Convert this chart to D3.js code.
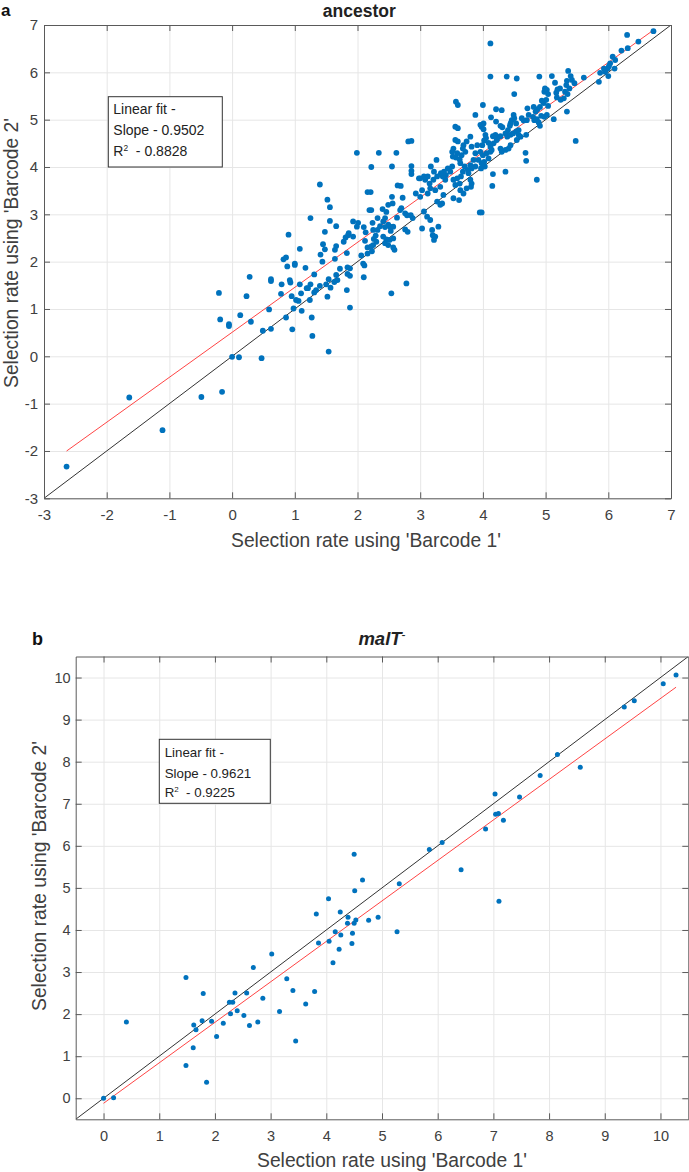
<!DOCTYPE html>
<html><head><meta charset="utf-8">
<script src="https://cdn.jsdelivr.net/npm/d3@7"></script>
<style>
html,body{margin:0;padding:0;background:#fff;}
text{font-family:"Liberation Sans",Arial,Helvetica,sans-serif;}
</style></head>
<body><svg id="c" width="689" height="1172"></svg>
<script>
// ---------- DATA ----------
const axisTicksA = [-3,-2,-1,0,1,2,3,4,5,6,7];
const axisTicksB = [0,1,2,3,4,5,6,7,8,9,10];
const fitA = {slope:0.9502, intercept:0.507, r2:0.8828};
const fitB = {slope:0.9621, intercept:-0.12, r2:0.9225};
const titleA = "ancestor";
const xLabel = "Selection rate using 'Barcode 1'";
const yLabel = "Selection rate using 'Barcode 2'";

// ancestor: [Barcode 1, Barcode 2]
const ancestorPoints = [
[-2.64,-2.33],[-1.64,-0.87],[-1.11,-1.56],[-0.49,-0.86],[-0.16,-0.75],[-0.21,1.34],[-0.19,0.78],[-0.05,0.68],[-0.05,0.64],[0.0,-0.01],[0.11,-0.02],[0.13,0.87],[0.23,1.27],[0.28,1.68],[0.30,0.73],[0.47,-0.04],[0.49,0.54],[0.59,0.99],[0.62,1.63],[0.62,1.59],[0.62,0.58],[0.78,1.32],[0.79,1.52],[0.82,2.05],[0.86,2.09],[0.86,0.82],[0.88,1.90],[0.92,1.61],[0.93,1.56],[0.95,1.27],[0.96,0.57],[0.98,1.01],[1.0,1.96],[1.0,1.93],[1.02,1.19],[1.06,1.17],[1.08,1.52],[1.10,1.33],[1.11,0.96],[1.17,1.87],[1.19,1.44],[1.21,1.44],[1.24,1.19],[1.25,1.52],[1.27,0.82],[1.28,0.43],[1.31,1.73],[1.31,1.35],[1.34,1.40],[1.40,1.49],[1.41,2.15],[1.44,2.0],[1.50,1.52],[1.52,1.26],[1.54,0.10],[1.54,1.63],[1.57,1.45],[1.63,1.57],[1.64,2.06],[1.66,1.72],[1.68,1.61],[1.72,1.85],[1.83,1.40],[1.83,2.18],[1.84,1.88],[1.88,1.86],[1.84,1.74],[1.88,1.03],[1.88,1.70],[2.06,2.13],[2.09,1.96],[2.11,1.92],[2.10,1.67],[2.16,2.17],[2.23,2.22],[2.54,1.33],[2.78,1.54],[2.59,2.25],
[1.99,4.30],[2.34,4.30],[2.62,4.30],[2.22,4.00],[2.55,4.01],[2.86,4.02],[2.86,3.92],[2.86,3.85],[1.40,3.63],[1.52,3.31],[1.56,3.15],[1.25,2.92],[1.56,2.86],[1.66,2.75],[1.48,2.63],[0.90,2.57],[1.08,2.27],[1.45,2.37],[1.48,2.26],[1.66,2.33],[1.64,2.25],[1.78,2.42],[1.81,2.51],[1.85,2.56],[1.93,2.53],[1.86,2.60],[1.93,2.85],[2.01,2.82],[1.99,2.74],[2.10,2.73],[2.19,3.09],[2.22,3.09],[2.16,3.47],[2.21,3.47],[2.13,2.62],[2.12,2.44],[2.16,2.30],[2.22,2.32],[2.25,2.35],[2.24,2.82],[2.25,2.67],[2.29,2.55],[2.32,2.67],[2.26,2.48],[2.30,2.42],[2.32,2.92],[2.41,2.85],[2.44,2.92],[2.49,2.78],[2.36,2.75],[2.44,2.73],[2.52,2.74],[2.57,2.74],[2.53,2.65],[2.41,2.53],[2.46,2.47],[2.51,2.46],[2.57,2.49],[2.44,2.39],[2.49,2.35],[2.57,2.30],[2.40,3.11],[2.46,3.05],[2.49,3.20],[2.56,3.23],[2.55,3.37],[2.64,3.61],[2.69,3.60],[2.72,3.35],[2.63,2.93],[2.68,3.09],[2.70,3.13],[2.76,3.02],[2.79,2.98],[2.85,2.98],[2.88,2.92],[2.76,2.68],[2.80,2.63],[2.93,3.44],[2.98,3.76],[2.81,4.54],[2.86,4.55],
[6.72,6.87],[6.30,6.79],[6.48,6.65],[6.31,6.51],[6.21,6.46],[6.07,6.33],[6.11,6.26],[6.03,6.19],[6.01,6.13],[5.99,6.08],[5.93,6.08],[5.95,6.01],[5.87,5.99],[5.85,5.80],[6.00,5.92],[6.10,6.08],[5.61,5.89],[5.36,6.03],[5.40,5.92],[5.42,5.84],[5.46,5.77],[5.34,5.82],[5.33,5.73],[5.38,5.66],[5.23,5.66],[5.31,5.59],[5.35,5.54],[5.29,5.45],[5.24,5.42],[5.15,5.78],[5.17,5.57],[5.19,5.64],[5.18,5.47],[5.10,5.92],[5.02,5.63],[4.98,5.59],[4.99,5.66],[5.04,5.54],[4.90,5.91],[4.54,5.87],[4.38,5.91],[4.12,5.91],[4.12,6.61],[4.50,5.54],[5.04,5.29],[4.97,5.35],[5.01,5.42],[4.91,5.27],[4.94,5.40],[4.87,5.22],[5.34,5.17],[5.13,5.01],[5.02,5.10],[4.98,5.06],[4.93,5.08],[4.84,5.17],[4.81,5.27],[4.80,5.06],[4.82,4.99],[4.86,5.01],[4.71,5.24],[4.73,5.10],[4.70,4.99],[4.65,4.98],[4.62,5.03],[4.91,4.87],[4.89,4.94],[4.49,5.10],[4.50,5.03],[4.46,4.99],[4.53,4.92],[4.44,4.92],[4.30,5.20],[4.21,5.22],[4.00,5.31],[3.88,5.10],[4.13,5.05],[4.21,4.96],[4.28,4.87],[4.31,4.84],[4.01,4.92],[3.96,4.89],[3.98,4.85],[4.01,4.80],[4.04,4.68],[4.28,4.65],[4.23,4.61],[4.20,4.68],[4.16,4.65],[4.43,4.87],[4.40,4.78],[4.36,4.71],[4.39,4.64],[4.44,4.68],[4.48,4.71],[4.53,4.75],[4.57,4.78],[4.60,4.64],[4.54,4.57],[4.57,4.68],[4.69,4.68],[4.44,4.46],[4.41,4.39],[4.36,4.36],[4.22,4.57],[4.17,4.50],[4.12,4.43],[4.14,4.36],[4.28,4.39],[4.30,4.32],[4.12,4.32],[4.68,4.30],[4.69,4.13],[4.86,3.73],[5.48,4.55],[4.36,3.90],[4.15,3.60],[4.16,3.85],[3.95,3.04],[3.98,3.04],[4.05,4.61],[4.02,4.56],[4.09,4.51],[3.99,4.46],[3.96,4.32],[4.00,4.25],[3.93,4.15],[4.02,4.11],[4.06,4.29],[3.98,4.08],[4.03,4.01],[3.97,3.97],[4.09,4.18],[3.88,4.29],[3.85,4.15],[3.88,4.01],[3.80,4.04],[3.80,4.64],[3.74,4.54],[3.69,4.46],[3.82,4.43],[3.91,4.46],[3.57,5.38],[3.60,5.31],[3.56,4.85],[3.60,4.82],[3.56,4.57],[3.60,4.54],[3.53,4.39],[3.51,4.32],[3.59,4.29],[3.52,4.22],[3.57,4.20],[3.63,4.16],[3.66,4.25],[3.72,4.32],[3.68,4.39],[3.64,4.08],[3.71,4.01],[3.76,3.94],[3.68,3.90],[3.77,3.87],[3.82,3.97],[3.65,3.80],[3.59,3.76],[3.53,3.73],[3.63,3.65],[3.56,3.62],[3.51,4.01],[3.44,3.97],[3.48,3.90],[3.41,3.83],[3.40,3.73],[3.36,3.80],[3.38,3.90],[3.33,3.87],[3.26,4.15],[3.17,4.01],[3.22,3.90],[3.27,3.80],[3.21,3.73],[3.15,3.65],[3.08,3.73],[3.06,3.80],[3.00,3.76],[3.12,3.80],[3.16,3.55],[3.24,3.51],[3.32,3.58],[3.12,3.44],[3.37,3.41],[3.35,3.23],[3.32,3.20],[3.27,3.27],[3.03,3.51],[3.00,3.37],[3.53,3.34],[3.62,3.30],[3.64,3.51],[3.81,3.58],[3.69,3.44],[3.74,3.55],[3.80,3.73],[3.82,3.65],[3.16,2.88],[3.19,2.67],[3.20,2.56],[3.24,2.53],[3.22,2.46],[3.29,2.74],[3.03,2.70],[3.11,2.95],[3.06,3.06]
];

// malT-: [Barcode 1, Barcode 2]
const maltPoints = [
[0,0],[0.18,0.01],[0.41,1.81],[1.48,2.87],[1.48,0.78],[1.62,1.74],[1.61,1.20],[1.66,1.63],[1.77,1.84],[1.79,2.49],[1.85,0.38],[1.94,1.83],[2.03,1.47],[2.15,1.78],[2.26,2.28],[2.28,2.01],[2.32,2.28],[2.36,2.50],[2.40,2.08],[2.52,1.97],[2.57,2.50],[2.62,1.73],[2.69,3.11],[2.77,1.81],[2.86,2.38],[3.02,3.43],[3.16,2.06],[3.29,2.84],[3.40,2.56],[3.45,1.36],[3.63,2.24],[3.79,2.54],[3.82,4.38],[3.86,3.69],[4.04,4.74],[4.05,3.73],[4.12,3.22],[4.16,3.96],[4.23,3.54],[4.25,4.43],[4.26,3.88],[4.39,4.30],[4.38,4.16],[4.46,3.68],[4.47,3.92],[4.50,4.16],[4.53,4.24],[4.51,4.93],[4.65,5.19],[4.76,4.23],[4.93,4.30],[5.27,3.96],[5.31,5.10],[7.10,4.68],[4.50,5.80],[5.85,5.91],[6.08,6.08],[6.42,5.43],[6.86,6.40],[7.03,7.23],[7.04,6.75],[7.09,6.77],[7.18,6.61],[7.47,7.16],[7.84,7.67],[8.15,8.17],[8.56,7.87],[9.35,9.30],[9.53,9.45],[10.05,9.85],[10.28,10.06]
];

// ---------- DRAW ----------
const svg = d3.select("#c");
const FONT = '"Liberation Sans",Arial,Helvetica,sans-serif';
const TXT = "#404040", AX = "#5a5a5a", GRID = "#e6e6e6", DOT = "#0072BD";
const fmt = d => String(d);

function panel(cfg){
  const x = d3.scaleLinear().domain(cfg.domain).range([cfg.left, cfg.right]);
  const y = d3.scaleLinear().domain(cfg.domain).range([cfg.bottom, cfg.top]);
  const g = svg.append("g");
  const W = cfg.right-cfg.left, H = cfg.bottom-cfg.top;
  // grid
  g.append("g").attr("transform",`translate(0,${cfg.bottom})`)
    .call(d3.axisBottom(x).tickValues(cfg.ticks).tickSize(-H).tickFormat(""))
    .call(s=>{s.select(".domain").remove(); s.selectAll("line").attr("stroke",GRID);});
  g.append("g").attr("transform",`translate(${cfg.left},0)`)
    .call(d3.axisLeft(y).tickValues(cfg.ticks).tickSize(-W).tickFormat(""))
    .call(s=>{s.select(".domain").remove(); s.selectAll("line").attr("stroke",GRID);});
  // clip
  const cid = "clip"+cfg.id;
  svg.append("clipPath").attr("id",cid).append("rect")
    .attr("x",cfg.left).attr("y",cfg.top).attr("width",W).attr("height",H);
  const inner = g.append("g").attr("clip-path",`url(#${cid})`);
  // identity line
  inner.append("line")
    .attr("x1",x(cfg.domain[0])).attr("y1",y(cfg.domain[0]))
    .attr("x2",x(cfg.domain[1])).attr("y2",y(cfg.domain[1]))
    .attr("stroke","#333").attr("stroke-width",1);
  // fit line
  const xs = d3.extent(cfg.data, d=>d[0]);
  inner.append("line")
    .attr("x1",x(xs[0])).attr("y1",y(cfg.fit.intercept+cfg.fit.slope*xs[0]))
    .attr("x2",x(xs[1])).attr("y2",y(cfg.fit.intercept+cfg.fit.slope*xs[1]))
    .attr("stroke","#ff4444").attr("stroke-width",1);
  // points
  g.append("g").selectAll("circle").data(cfg.data).join("circle")
    .attr("cx",d=>x(d[0])).attr("cy",d=>y(d[1])).attr("r",cfg.r).attr("fill",DOT);
  // axes (ticks inward)
  const styleAx = s=>{s.select(".domain").attr("stroke",AX);
    s.selectAll(".tick line").attr("stroke",AX);
    s.selectAll("text").attr("fill",TXT).style("font-family",FONT).style("font-size",cfg.tickFont+"px");};
  g.append("g").attr("transform",`translate(0,${cfg.bottom})`)
    .call(d3.axisBottom(x).tickValues(cfg.ticks).tickSizeInner(-6).tickSizeOuter(0).tickPadding(cfg.xPad).tickFormat(fmt))
    .call(styleAx);
  g.append("g").attr("transform",`translate(0,${cfg.top})`)
    .call(d3.axisTop(x).tickValues(cfg.ticks).tickSizeInner(-6).tickSizeOuter(0).tickFormat(""))
    .call(styleAx);
  g.append("g").attr("transform",`translate(${cfg.left},0)`)
    .call(d3.axisLeft(y).tickValues(cfg.ticks).tickSizeInner(-6).tickSizeOuter(0).tickPadding(cfg.yPad).tickFormat(fmt))
    .call(styleAx);
  g.append("g").attr("transform",`translate(${cfg.right},0)`)
    .call(d3.axisRight(y).tickValues(cfg.ticks).tickSizeInner(-6).tickSizeOuter(0).tickFormat(""))
    .call(styleAx);
  // axis labels
  g.append("text").attr("x",cfg.xLabX).attr("y",cfg.xLabY).attr("text-anchor","middle")
    .attr("fill",TXT).style("font-size",cfg.labFont+"px").text(xLabel);
  g.append("text").attr("transform",`translate(${cfg.yLabX},${cfg.yLabY}) rotate(-90)`).attr("text-anchor","middle")
    .attr("fill",TXT).style("font-size",cfg.labFont+"px").text(yLabel);
  // legend box
  const L = cfg.legend;
  g.append("rect").attr("x",L.x).attr("y",L.y).attr("width",L.w).attr("height",L.h)
    .attr("fill","#fff").attr("stroke","#333").attr("stroke-width",1);
  const lines = ["Linear fit -", "Slope - "+cfg.fit.slope.toFixed(4)];
  lines.forEach((t,i)=>{
    g.append("text").attr("x",L.tx).attr("y",L.b[i]).attr("fill","#222")
      .style("font-size",L.font+"px").text(t);
  });
  const r2 = g.append("text").attr("x",L.tx).attr("y",L.b[2]).attr("fill","#222")
      .style("font-size",L.font+"px").attr("xml:space","preserve");
  r2.append("tspan").text("R");
  r2.append("tspan").attr("dy",-5).style("font-size",(L.font*0.6)+"px").text("2");
  r2.append("tspan").attr("dy",5).text("  - "+cfg.fit.r2.toFixed(4));
}

panel({id:"A", domain:[-3,7], ticks:axisTicksA, left:44, right:671, top:25, bottom:498.3,
  data:ancestorPoints, fit:fitA, r:2.9, tickFont:15, xPad:11.5, yPad:6, labFont:19.3,
  xLabX:366, xLabY:547, yLabX:18, yLabY:253,
  legend:{x:108.3,y:96.7,w:114,h:70.3,tx:113.3,b:[114.3,135,155.5],font:14}});

panel({id:"B", domain:[-0.5,10.5], ticks:axisTicksB, left:75.7, right:688.3, top:656.5, bottom:1119.3,
  data:maltPoints, fit:fitB, r:2.5, tickFont:14.5, xPad:11.5, yPad:5, labFont:19.3,
  xLabX:392, xLabY:1167, yLabX:46, yLabY:876,
  legend:{x:159.3,y:739.3,w:111,h:64,tx:164.7,b:[756.7,778,797.3],font:13.3}});

// titles and panel letters
svg.append("text").attr("x",1).attr("y",16).style("font-weight","bold").style("font-size","17px").attr("fill","#111").text("a");
svg.append("text").attr("x",359.3).attr("y",16.5).attr("text-anchor","middle").style("font-weight","bold").style("font-size","17.5px").attr("fill","#222").text(titleA);
svg.append("text").attr("x",32).attr("y",645).style("font-weight","bold").style("font-size","18px").attr("fill","#111").text("b");
const tb = svg.append("text").attr("x",382).attr("y",645).attr("text-anchor","middle")
  .style("font-weight","bold").style("font-style","italic").style("font-size","18.5px").attr("fill","#222");
tb.append("tspan").text("malT");
tb.append("tspan").attr("dy",-6).style("font-size","12px").style("font-style","normal").style("font-weight","normal").text("-");
</script></body></html>
